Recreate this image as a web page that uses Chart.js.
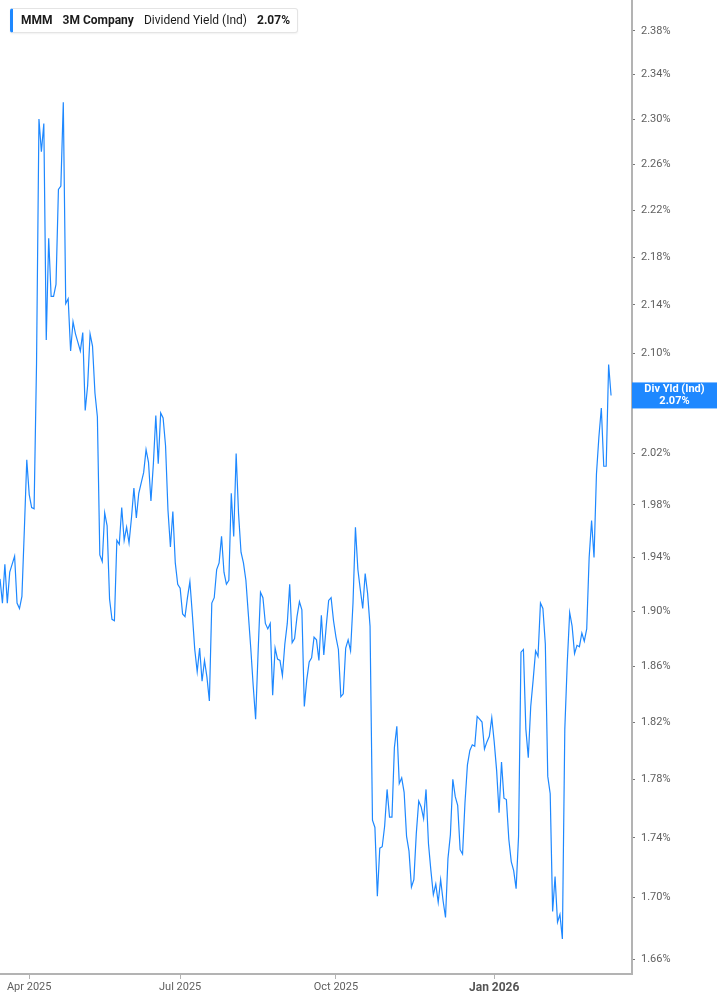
<!DOCTYPE html>
<html>
<head>
<meta charset="utf-8">
<title>MMM Dividend Yield</title>
<script src="https://cdn.jsdelivr.net/npm/chart.js@4.4.1/dist/chart.umd.min.js"></script>
<style>
    html, body {
        margin: 0;
        padding: 0;
        background: #fff;
    }

    #wrap {
        position: relative;
        width: 717px;
        height: 1005px;
    }

    #legend {
        position: absolute;
        left: 10px;
        top: 8px;
        height: 23px;
        line-height: 23px;
        padding: 0 7px 0 8px;
        border: 1px solid #e4e4e4;
        border-left: 3px solid #1e88ff;
        border-radius: 3px;
        background: #fff;
        font-family: Roboto, "Noto Sans", sans-serif;
        font-size: 12px;
        color: #1b1b1b;
        white-space: nowrap;
        box-shadow: 0 1px 2px rgba(0, 0, 0, 0.06);
    }

    #legend span {
        margin-right: 10px;
    }

    #legend span:last-child {
        margin-right: 0;
    }

    #legend .b {
        font-weight: bold;
    }
</style>
</head>
<body>
<div id="wrap">
    <canvas id="yieldChart"></canvas>
    <div id="legend">
        <span class="b">MMM</span><span class="b">3M Company</span><span>Dividend Yield (Ind)</span><span class="b" id="legendValue"></span>
    </div>
</div>

<script>
// daily dividend yield (%), mid-Mar 2025 to early Mar 2026
const yieldSpring = [
    1.924, 1.906, 1.935, 1.906, 1.929, 1.935, 1.941, 1.906, 1.902, 1.911,
    1.961, 2.015, 1.988, 1.978, 1.977, 2.091, 2.300, 2.271, 2.296, 2.111,
    2.196, 2.147, 2.147, 2.157, 2.238, 2.241, 2.315, 2.141, 2.145, 2.102,
    2.126, 2.116, 2.109, 2.102, 2.117, 2.054, 2.074, 2.116, 2.106, 2.068,
    2.049, 1.942, 1.937, 1.974, 1.964, 1.909, 1.894, 1.893
];

const yieldSummer = [
    1.953, 1.950, 1.978, 1.953, 1.963, 1.951, 1.970, 1.993, 1.970, 1.989,
    1.997, 2.005, 2.023, 2.013, 1.983, 2.012, 2.050, 2.012, 2.052, 2.048,
    2.026, 1.976, 1.948, 1.975, 1.936, 1.920, 1.917, 1.898, 1.896, 1.910,
    1.922, 1.898, 1.872, 1.856, 1.873, 1.849, 1.864, 1.852, 1.835, 1.906,
    1.910, 1.931, 1.936, 1.956, 1.929, 1.920, 1.923, 1.989, 1.956, 2.020,
    1.973, 1.944, 1.936, 1.923, 1.898, 1.873, 1.846, 1.822, 1.869, 1.914
];

const yieldAutumn = [
    1.910, 1.891, 1.887, 1.891, 1.839, 1.873, 1.865, 1.864, 1.853, 1.876,
    1.891, 1.920, 1.877, 1.880, 1.896, 1.907, 1.901, 1.831, 1.850, 1.863,
    1.866, 1.881, 1.879, 1.864, 1.897, 1.868, 1.889, 1.908, 1.910, 1.893,
    1.881, 1.872, 1.838, 1.840, 1.873, 1.879, 1.871, 1.906, 1.963, 1.931,
    1.916, 1.902, 1.928, 1.913, 1.889, 1.752, 1.747, 1.701, 1.733, 1.734,
    1.748, 1.773, 1.754, 1.754, 1.802, 1.817, 1.777, 1.781, 1.771, 1.741,
    1.731, 1.707, 1.712, 1.743
];

const yieldWinter = [
    1.765, 1.761, 1.753, 1.773, 1.736, 1.718, 1.702, 1.709, 1.697, 1.712,
    1.698, 1.687, 1.726, 1.742, 1.780, 1.768, 1.762, 1.732, 1.729, 1.764,
    1.790, 1.800, 1.804, 1.803, 1.824, 1.822, 1.820, 1.801, 1.806, 1.810,
    1.823, 1.806, 1.786, 1.757, 1.792, 1.767, 1.766, 1.739, 1.724, 1.718,
    1.706, 1.741, 1.870, 1.872
];

const yieldRecent = [
    1.815, 1.795, 1.831, 1.850, 1.871, 1.867, 1.906, 1.902, 1.876, 1.782,
    1.770, 1.691, 1.714, 1.684, 1.689, 1.673, 1.815, 1.862, 1.899, 1.889,
    1.869, 1.875, 1.874, 1.884, 1.878, 1.887, 1.940, 1.968, 1.940, 2.004,
    2.033, 2.056, 2.010, 2.010, 2.091, 2.066
];

// x axis: trading-day index of each month label
const monthLabels = ["Apr 2025", "Jul 2025", "Oct 2025", "Jan 2026"];
const monthIdx = [12, 74, 138, 203];

// y axis tick values (%)
const yTicks = [
    1.66, 1.70, 1.74, 1.78, 1.82, 1.86, 1.90, 1.94, 1.98,
    2.02, 2.06, 2.10, 2.14, 2.18, 2.22, 2.26, 2.30, 2.34, 2.38
];

const values = [
    ...yieldSpring,
    ...yieldSummer,
    ...yieldAutumn,
    ...yieldWinter,
    ...yieldRecent
];
const points = values.map((v, i) => ({ x: i, y: v }));
const lastValue = values[values.length - 1];

const LINE_BLUE = "#1e88ff";
const AXIS_GREY = "#b3b3b3";
const TEXT_GREY = "#5f5f5f";

document.getElementById("legendValue").innerText = lastValue.toFixed(2) + "%";

// blue tag on the y axis with the latest value
const lastValueTag = {
    id: "lastValueTag",
    afterDraw(chart) {
        const ctx = chart.ctx;
        const yScale = chart.scales.y;
        const area = chart.chartArea;
        const yPos = yScale.getPixelForValue(lastValue);
        const left = area.right;
        const width = chart.width - left;

        ctx.save();
        ctx.fillStyle = LINE_BLUE;
        ctx.fillRect(left, yPos - 13, width, 26);
        ctx.fillStyle = "#fff";
        ctx.font = "bold 11px Roboto, 'Noto Sans', sans-serif";
        ctx.textAlign = "center";
        ctx.textBaseline = "middle";
        ctx.fillText("Div Yld (Ind)", left + width / 2, yPos - 6);
        ctx.fillText(lastValue.toFixed(2) + "%", left + width / 2, yPos + 6);
        ctx.restore();
    }
};

new Chart(document.getElementById("yieldChart"), {
    type: "line",
    data: {
        datasets: [{
            label: "Dividend Yield (Ind)",
            data: points,
            borderColor: LINE_BLUE,
            borderWidth: 1.2,
            pointRadius: 0,
            tension: 0,
            fill: false
        }]
    },
    options: {
        responsive: true,
        maintainAspectRatio: false,
        animation: false,
        layout: {
            padding: 0
        },
        plugins: {
            legend: { display: false },
            tooltip: { enabled: false }
        },
        scales: {
            x: {
                type: "linear",
                min: 0,
                max: 259.6,
                afterBuildTicks: (scale) => {
                    scale.ticks = monthIdx.map(v => ({ value: v }));
                },
                afterFit: (scale) => {
                    scale.height = 31;
                    scale.paddingLeft = 0;
                    scale.paddingRight = 0;
                },
                grid: {
                    drawOnChartArea: false,
                    drawTicks: true,
                    tickLength: 5,
                    tickColor: AXIS_GREY
                },
                border: {
                    display: true,
                    color: AXIS_GREY,
                    width: 2
                },
                ticks: {
                    autoSkip: false,
                    maxRotation: 0,
                    padding: 2,
                    color: (c) => c.tick && c.tick.value === 203 ? "#555" : TEXT_GREY,
                    font: (c) => ({
                        family: "Roboto, 'Noto Sans', sans-serif",
                        size: c.tick && c.tick.value === 203 ? 12 : 11,
                        weight: c.tick && c.tick.value === 203 ? "bold" : "normal"
                    }),
                    callback: (val) => monthLabels[monthIdx.indexOf(val)]
                }
            },
            y: {
                type: "logarithmic",
                position: "right",
                min: 1.6504,
                max: 2.4088,
                afterBuildTicks: (scale) => {
                    scale.ticks = yTicks.map(v => ({ value: v }));
                },
                afterFit: (scale) => {
                    scale.width = 85;
                    scale.paddingTop = 0;
                    scale.paddingBottom = 0;
                },
                grid: {
                    drawOnChartArea: false,
                    drawTicks: true,
                    tickLength: 3,
                    tickColor: "#777"
                },
                border: {
                    display: true,
                    color: AXIS_GREY,
                    width: 2
                },
                ticks: {
                    autoSkip: false,
                    padding: 6,
                    color: TEXT_GREY,
                    font: {
                        family: "Roboto, 'Noto Sans', sans-serif",
                        size: 11
                    },
                    callback: (val) => Number(val).toFixed(2) + "%"
                }
            }
        }
    },
    plugins: [lastValueTag]
});
</script>
</body>
</html>
